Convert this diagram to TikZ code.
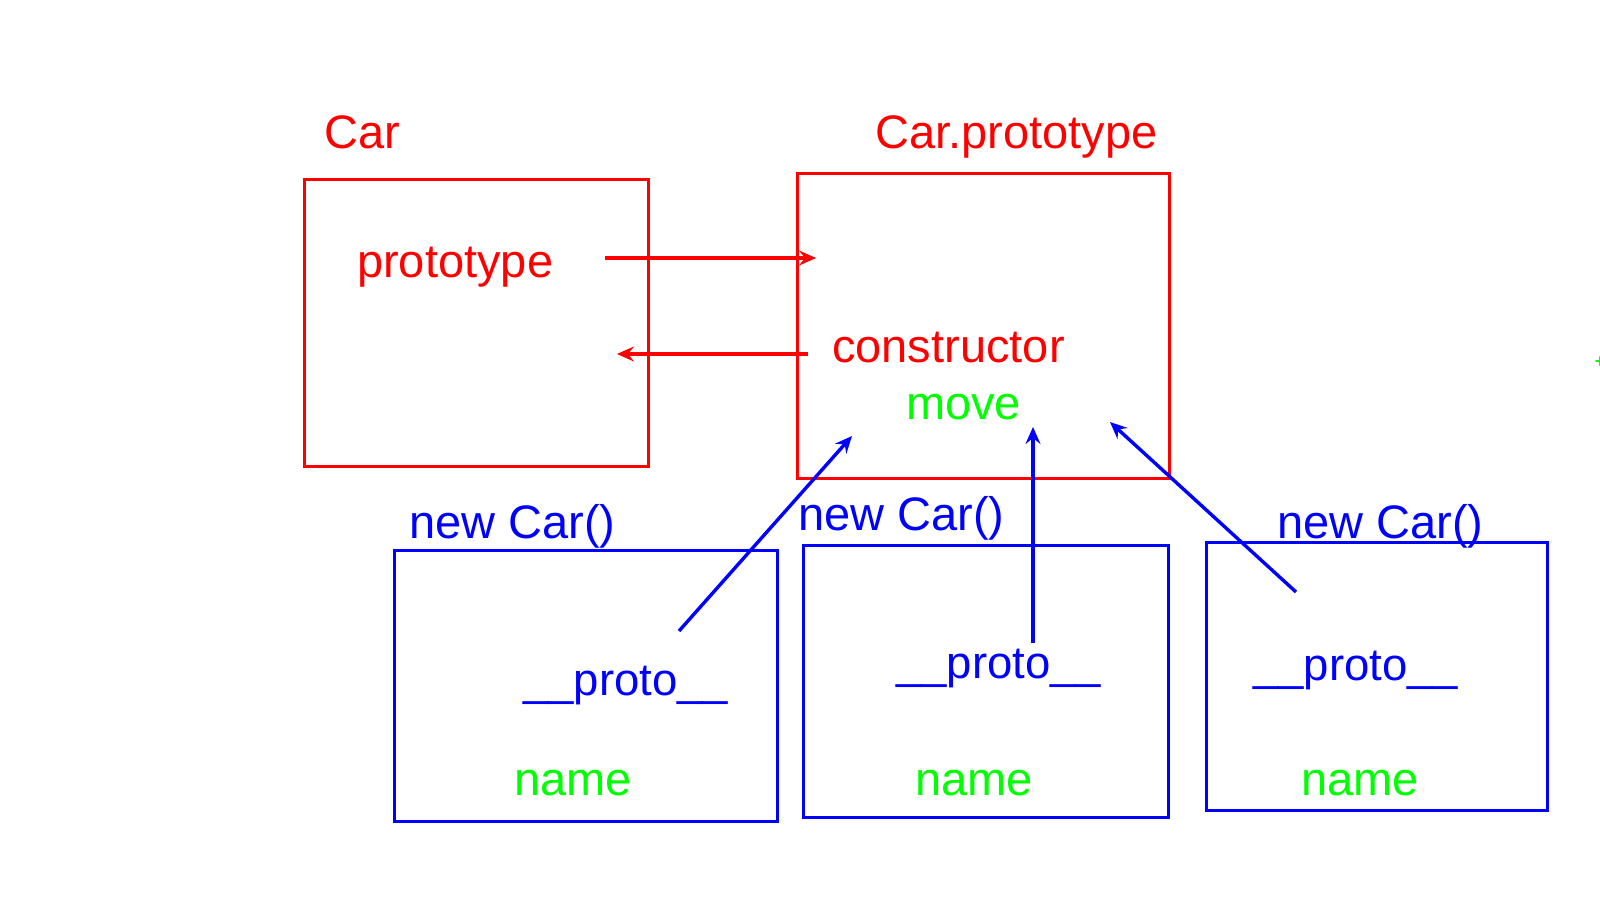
\documentclass[tikz,border=0pt]{standalone}
\usepackage{fontspec}
\setmainfont{Liberation Sans}
\usetikzlibrary{arrows.meta}
\definecolor{pred}{RGB}{255,0,0}
\definecolor{pblue}{RGB}{0,0,255}
\definecolor{pgreen}{RGB}{0,255,0}
\begin{document}
\begin{tikzpicture}[x=1pt,y=-1pt,
  lbl/.style={anchor=base west,inner sep=0pt,font=\fontsize{47}{56}\selectfont},
  plbl/.style={anchor=base west,inner sep=0pt,font=\fontsize{45.5}{56}\selectfont},
  redbox/.style={draw=pred,line width=2.6pt},
  bluebox/.style={draw=pblue,line width=2.6pt},
  conn/.style={line width=3.4pt,-{Stealth[length=17pt,width=15pt,inset=6pt]}}]
\useasboundingbox (0,0) rectangle (1600,900);
% red objects
\node[redbox,minimum width=344pt,minimum height=287pt,anchor=north west,inner sep=0pt] (car) at (303,178) {};
\node[redbox,minimum width=372pt,minimum height=305pt,anchor=north west,inner sep=0pt] (carproto) at (796,172) {};
\node[lbl,text=pred] (carlbl) at (324,148) {Car};
\node[lbl,text=pred] (cplbl) at (875,148) {Car.prototype};
\node[lbl,text=pred] (prototype) at (357,277) {prototype};
\node[lbl,text=pred] (constructor) at (832,362) {constructor};
\node[lbl,text=pgreen] (move) at (906,419) {move};
% red arrows
\coordinate (a1s) at (605,258);
\coordinate (a1e) at (816,258);
\coordinate (a2s) at (808,354);
\coordinate (a2e) at (617,354);
\draw[pred,conn] (a1s) -- (a1e);
\draw[pred,conn] (a2s) -- (a2e);
% blue objects
\node[bluebox,minimum width=383pt,minimum height=271pt,anchor=north west,inner sep=0pt] (o1) at (393,549) {};
\node[bluebox,minimum width=365pt,minimum height=272pt,anchor=north west,inner sep=0pt] (o2) at (802,544) {};
\node[bluebox,minimum width=341pt,minimum height=268pt,anchor=north west,inner sep=0pt] (o3) at (1205,541) {};
\node[lbl,text=pblue] (n1) at (409,538) {new Car()};
\node[lbl,text=pblue] (n2) at (798,530) {new Car()};
\node[lbl,text=pblue] (n3) at (1277,538) {new Car()};
\node[plbl,text=pblue] (p1) at (523,695) {\_\_proto\_\_};
\node[plbl,text=pblue] (p2) at (896,678) {\_\_proto\_\_};
\node[plbl,text=pblue] (p3) at (1253,680) {\_\_proto\_\_};
\node[lbl,text=pgreen] (m1) at (514,795) {name};
\node[lbl,text=pgreen] (m2) at (915,795) {name};
\node[lbl,text=pgreen] (m3) at (1301,795) {name};
% blue arrows
\coordinate (b1s) at (679,631);
\coordinate (b1e) at (852,436);
\coordinate (b2s) at (1033,643);
\coordinate (b2e) at (1033,427);
\coordinate (b3s) at (1296,592);
\coordinate (b3e) at (1110,422);
\draw[pblue,conn] (b1s) -- (b1e);
\draw[pblue,conn] (b2s) -- (b2e);
\draw[pblue,conn] (b3s) -- (b3e);
% stray mark at right edge
\node[inner sep=0pt,text=pgreen,font=\fontsize{18}{20}\selectfont\bfseries] (plus) at (1600,362) {+};
\end{tikzpicture}
\end{document}
